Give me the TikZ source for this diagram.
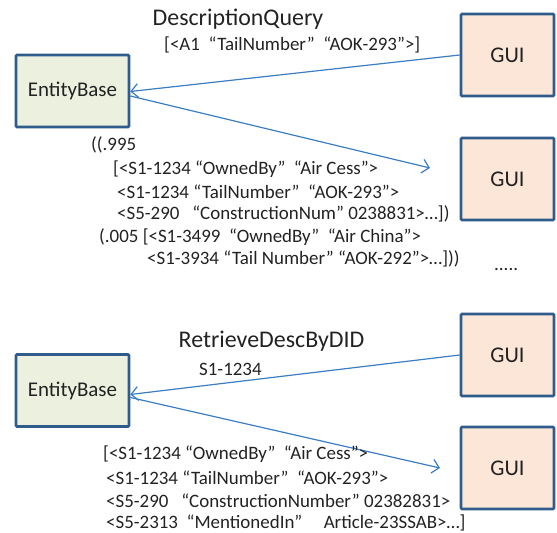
\documentclass[tikz,border=0pt]{standalone}
\usepackage{fontspec}
\setmainfont{Carlito}
\usetikzlibrary{arrows.meta}
\definecolor{boxline}{HTML}{2F5C8A}
\definecolor{ebfill}{HTML}{EBF1DE}
\definecolor{guifill}{HTML}{FCE6D8}
\definecolor{arrowc}{HTML}{3A7DC2}
\definecolor{txt}{HTML}{222222}
\tikzset{
  ebbox/.style={draw=boxline, fill=ebfill, line width=2.6pt, rounded corners=1pt,
    minimum width=113bp, minimum height=72bp, inner sep=0pt, font=\fontsize{21}{24}\selectfont, text=txt},
  guibox/.style={draw=boxline, fill=guifill, line width=2.6pt, rounded corners=1pt,
    minimum width=93bp, minimum height=82bp, inner sep=0pt, font=\fontsize{22.5}{26}\selectfont, text=txt},
  conn/.style={draw=arrowc, line width=1.2pt, -{Straight Barb[length=7pt,width=14pt,line width=1.2pt]}},
  title/.style={font=\fontsize{24}{28}\selectfont, text=txt, inner sep=0pt},
  lbl/.style={font=\fontsize{19}{22}\selectfont, text=txt, anchor=west, inner sep=0pt},
}
\begin{document}
\begin{tikzpicture}[x=1bp,y=-1bp]
\useasboundingbox (0,0) rectangle (557,533);
% top part
\node[ebbox] (eb1) at (72.5,91) {EntityBase};
\node[guibox] (gui1) at (507.5,55) {GUI};
\node[guibox] (gui2) at (507.5,179) {GUI};
\node[title] (t1) at (238,19) {DescriptionQuery};
\node[lbl] (q1) at (164,45) {[<A1~ “TailNumber”~ “AOK-293”>]};
\coordinate (e1) at (430,168);
\draw[conn] (gui1.west) -- ([yshift=-0.5pt]eb1.east);
\draw[conn] ([yshift=-5pt]eb1.east) -- (e1);
\node[lbl] (a1) at (91,145) {((.995};
\node[lbl] (a2) at (113,169) {[<S1-1234 “OwnedBy”~ “Air Cess”>};
\node[lbl] (a3) at (117,192) {<S1-1234 “TailNumber”~ “AOK-293”>};
\node[lbl] (a4) at (117,214) {<S5-290~~ “ConstructionNum” 0238831>…])};
\node[lbl] (a5) at (99,237) {(.005 [<S1-3499~ “OwnedBy”~ “Air China”>};
\node[lbl] (a6) at (147,259) {<S1-3934 “Tail Number” “AOK-292”>…]))};
\node[lbl] (a7) at (494,270) {.....};
% bottom part
\node[ebbox] (eb2) at (72.5,390.5) {EntityBase};
\node[guibox] (gui3) at (507.5,355) {GUI};
\node[guibox] (gui4) at (507.5,468) {GUI};
\node[title] (t2) at (271.5,341) {RetrieveDescByDID};
\node[lbl] (s1) at (199,369) {S1-1234};
\coordinate (e2) at (440,468);
\draw[conn] (gui3.west) -- ([yshift=-4pt]eb2.east);
\draw[conn] ([yshift=-7pt]eb2.east) -- (e2);
\node[lbl] (b1) at (103,454) {[<S1-1234 “OwnedBy”~ “Air Cess”>};
\node[lbl] (b2) at (106,477.5) {<S1-1234 “TailNumber”~ “AOK-293”>};
\node[lbl] (b3) at (106,500.5) {<S5-290~~ “ConstructionNumber” 02382831>};
\node[lbl] (b4) at (106,522.5) {<S5-2313~ “MentionedIn”~~~~ Article-23SSAB>…]};
\end{tikzpicture}
\end{document}
